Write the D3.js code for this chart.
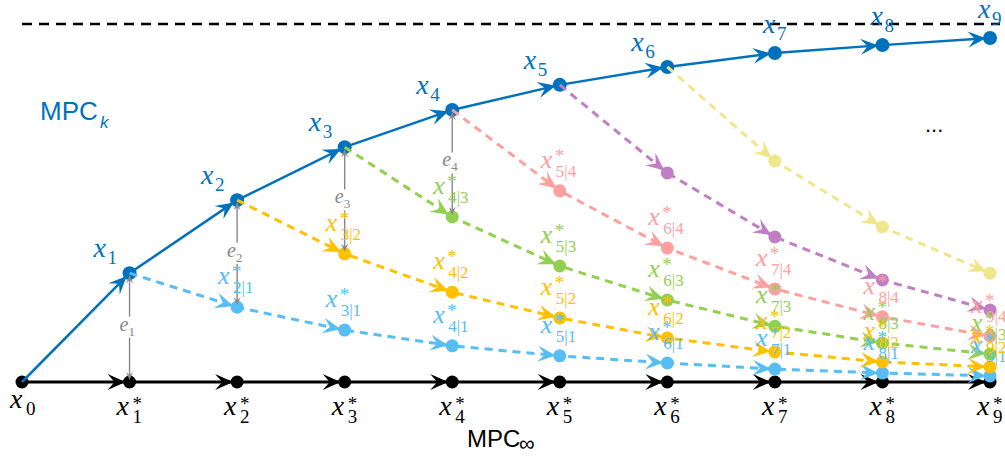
<!DOCTYPE html>
<html>
<head>
<meta charset="utf-8">
<script src="https://cdn.jsdelivr.net/npm/d3@7"></script>
<style>
  body { margin: 0; background: #fff; }
</style>
</head>
<body>
<script>
// MPC_k vs MPC_inf diagram: closed-loop states x_k and open-loop predictions x*_{j|k}

const w = 1005;
const h = 456;

// step index on the horizontal axis
const steps = [0, 1, 2, 3, 4, 5, 6, 7, 8, 9];

// MPC_k trajectory (0 = optimal baseline, 1 = dashed asymptote)
const mpcK = [0, 0.304, 0.508, 0.656, 0.760, 0.830, 0.880, 0.919, 0.941, 0.961];
const asymptote = 1;

// predictions started at step k, values for steps k+1 .. 9
const predStart = [1, 2, 3, 4, 5, 6];
const pred1 = [0.209, 0.145, 0.101, 0.073, 0.053, 0.036, 0.025, 0.017];
const pred2 = [0.358, 0.251, 0.179, 0.123, 0.084, 0.056, 0.042];
const pred3 = [0.461, 0.324, 0.229, 0.156, 0.109, 0.078];
const pred4 = [0.534, 0.374, 0.260, 0.182, 0.128];
const pred5 = [0.584, 0.405, 0.285, 0.201];
const pred6 = [0.617, 0.433, 0.304];
const predColors = ["#56bdf5", "#ffc000", "#92d050", "#ffa0a0", "#c07fc2", "#f0e68c"];
const labelledPreds = [1, 2, 3, 4];

// error arrows e_k: from x_k down to x*_{k|k-1}
const errSteps = [1, 2, 3, 4];

const blue = "#0072bd";
const gray = "#888888";
const serif = "'Liberation Serif', 'Times New Roman', serif";
const sans = "'Liberation Sans', Arial, sans-serif";

const svg = d3.select("body")
  .append("svg")
  .attr("width", w)
  .attr("height", h);

const x = d3.scaleLinear().domain([0, 9]).range([22, 990]);
const y = d3.scaleLinear().domain([0, 1]).range([382, 24]);

const line = d3.line()
  .x(d => x(d.s))
  .y(d => y(d.v));

const arrowPath = "M0,0 L-18,-8 L-11,0 L-18,8 Z";
const smallArrow = "M0,0 L-8,-3.5 L-5,0 L-8,3.5 Z";

function arrowHeads(g, pts, color, path, back) {
  for (let i = 1; i < pts.length; i++) {
    const x0 = x(pts[i - 1].s), y0 = y(pts[i - 1].v);
    const x1 = x(pts[i].s), y1 = y(pts[i].v);
    const a = Math.atan2(y1 - y0, x1 - x0);
    g.append("path")
      .attr("d", path)
      .attr("fill", color)
      .attr("transform", `translate(${x1 - back * Math.cos(a)},${y1 - back * Math.sin(a)}) rotate(${a * 180 / Math.PI})`);
  }
}

function mathLabel(g, o) {
  g.append("text")
    .attr("x", o.x).attr("y", o.y)
    .attr("fill", o.color)
    .attr("font-family", serif)
    .attr("font-style", "italic")
    .attr("font-size", o.size)
    .text(o.base || "x");
  if (o.sup) {
    g.append("text")
      .attr("x", o.x + o.supDx).attr("y", o.y + o.supDy)
      .attr("fill", o.color)
      .attr("font-family", serif)
      .attr("font-size", o.supSize)
      .text(o.sup);
  }
  if (o.sub) {
    g.append("text")
      .attr("x", o.x + o.subDx).attr("y", o.y + o.subDy)
      .attr("fill", o.color)
      .attr("font-family", serif)
      .attr("font-size", o.subSize)
      .text(o.sub);
  }
}

// dashed asymptote on top
svg.append("line")
  .attr("x1", x(0)).attr("x2", 1000)
  .attr("y1", y(asymptote)).attr("y2", y(asymptote))
  .attr("stroke", "#000")
  .attr("stroke-width", 2.5)
  .attr("stroke-dasharray", "10,7");

// MPC_inf baseline
const basePts = steps.map(s => ({ s: s, v: 0 }));
svg.append("path")
  .attr("d", line(basePts))
  .attr("fill", "none")
  .attr("stroke", "#000")
  .attr("stroke-width", 3);
arrowHeads(svg, basePts, "#000", arrowPath, 4);
svg.selectAll(".base-pt")
  .data(basePts)
  .enter()
  .append("circle")
  .attr("class", "base-pt")
  .attr("cx", d => x(d.s))
  .attr("cy", d => y(d.v))
  .attr("r", 6.5)
  .attr("fill", "#000");

// MPC_k trajectory
const kPts = steps.map((s, i) => ({ s: s, v: mpcK[i] }));
svg.append("path")
  .attr("d", line(kPts))
  .attr("fill", "none")
  .attr("stroke", blue)
  .attr("stroke-width", 2.5);
arrowHeads(svg, kPts, blue, arrowPath, 4);
svg.selectAll(".k-pt")
  .data(kPts.slice(1))
  .enter()
  .append("circle")
  .attr("class", "k-pt")
  .attr("cx", d => x(d.s))
  .attr("cy", d => y(d.v))
  .attr("r", 7)
  .attr("fill", blue);

// predictions
const preds = [pred1, pred2, pred3, pred4, pred5, pred6];
const predSeries = preds.map((vals, i) => {
  const k = predStart[i];
  const pts = [{ s: k, v: mpcK[k] }].concat(vals.map((v, j) => ({ s: k + 1 + j, v: v })));
  return { k: k, pts: pts, color: predColors[i] };
});

predSeries.forEach(ser => {
  svg.append("path")
    .attr("d", line(ser.pts))
    .attr("fill", "none")
    .attr("stroke", ser.color)
    .attr("stroke-width", 3)
    .attr("stroke-dasharray", "8,6");
});
predSeries.forEach(ser => {
  const g = svg.append("g");
  arrowHeads(g, ser.pts, ser.color, arrowPath, 4);
  g.selectAll("circle")
    .data(ser.pts.slice(1))
    .enter()
    .append("circle")
    .attr("cx", d => x(d.s))
    .attr("cy", d => y(d.v))
    .attr("r", 6.5)
    .attr("fill", ser.color);
});

// error arrows e_k
errSteps.forEach(k => {
  const prev = predSeries[k - 2];
  const top = y(mpcK[k]);
  const bot = k === 1 ? y(0) : y(prev.pts.find(p => p.s === k).v);
  const px = x(k);
  const mid = (top + bot) / 2;
  const g = svg.append("g");
  g.append("line")
    .attr("x1", px).attr("x2", px)
    .attr("y1", top + 6).attr("y2", mid - 11)
    .attr("stroke", gray).attr("stroke-width", 1.4);
  g.append("line")
    .attr("x1", px).attr("x2", px)
    .attr("y1", mid + 10).attr("y2", bot - 6)
    .attr("stroke", gray).attr("stroke-width", 1.4);
  g.append("path").attr("d", smallArrow).attr("fill", gray)
    .attr("transform", `translate(${px},${top + 2}) rotate(-90)`);
  g.append("path").attr("d", smallArrow).attr("fill", gray)
    .attr("transform", `translate(${px},${bot - 2}) rotate(90)`);
  mathLabel(g, {
    x: px - 10, y: mid + 3, size: 20, color: gray, base: "e",
    sub: String(k), subDx: 9, subDy: 5, subSize: 13
  });
});

// labels on MPC_k points
kPts.slice(1).forEach(p => {
  const near = p.s >= 7;
  mathLabel(svg, {
    x: x(p.s) + (near ? -12 : -36), y: y(p.v) + (near ? -20 : -16),
    size: 28, color: blue,
    sub: String(p.s), subDx: 14, subDy: 7, subSize: 19
  });
});

// labels on baseline points
basePts.forEach(p => {
  if (p.s === 0) {
    mathLabel(svg, {
      x: x(0) - 12, y: y(0) + 26, size: 28, color: "#000",
      sub: "0", subDx: 16, subDy: 7, subSize: 19
    });
  } else {
    mathLabel(svg, {
      x: x(p.s) - 13, y: y(0) + 33, size: 28, color: "#000",
      sup: "*", supDx: 16, supDy: -5, supSize: 19,
      sub: String(p.s), subDx: 16, subDy: 8, subSize: 19
    });
  }
});

// labels on predicted points
predSeries.filter(ser => labelledPreds.includes(ser.k)).forEach(ser => {
  ser.pts.slice(1).forEach(p => {
    mathLabel(svg, {
      x: x(p.s) - 19, y: y(p.v) - 23, size: 26, color: ser.color,
      sup: "*", supDx: 14, supDy: -6, supSize: 19,
      sub: `${p.s}|${ser.k}`, subDx: 15, subDy: 9, subSize: 17
    });
  });
});

// titles
svg.append("text")
  .attr("x", 40).attr("y", 120)
  .attr("font-family", sans).attr("font-size", 26)
  .attr("fill", blue)
  .text("MPC");
svg.append("text")
  .attr("x", 100).attr("y", 128)
  .attr("font-family", sans).attr("font-size", 17)
  .attr("font-style", "italic")
  .attr("fill", blue)
  .text("k");

svg.append("text")
  .attr("x", 467).attr("y", 447)
  .attr("font-family", sans).attr("font-size", 24)
  .attr("fill", "#000")
  .text("MPC");
svg.append("text")
  .attr("x", 519).attr("y", 451)
  .attr("font-family", sans).attr("font-size", 22)
  .attr("fill", "#000")
  .text("\u221e");

svg.append("text")
  .attr("x", 925).attr("y", 132)
  .attr("font-family", sans).attr("font-size", 22)
  .attr("fill", "#000")
  .text("...");
</script>
</body>
</html>
